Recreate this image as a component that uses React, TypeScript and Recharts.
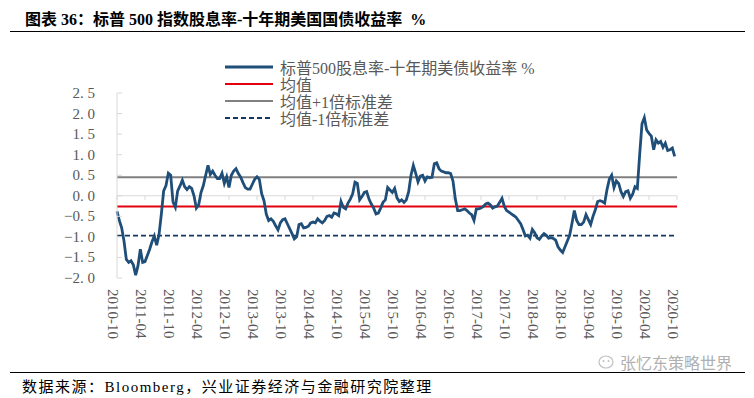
import { LineChart, Line, XAxis, YAxis, ReferenceLine } from "recharts";

const FONT = "'Liberation Serif', 'Noto Sans CJK SC', serif";

// half-month steps from 2010-10 to 2020-10
const X_LABELS = [
  "2010-10", "2011-04", "2011-10", "2012-04", "2012-10", "2013-04", "2013-10",
  "2014-04", "2014-10", "2015-04", "2015-10", "2016-04", "2016-10", "2017-04",
  "2017-10", "2018-04", "2018-10", "2019-04", "2019-10", "2020-04", "2020-10",
];
const Y_TICKS = [-2, -1.5, -1, -0.5, 0, 0.5, 1, 1.5, 2, 2.5];

const SPREAD = [
  -0.38, -0.6, -0.78, -1.1, -1.55, -1.62, -1.58, -1.68, -1.93, -1.7,
  -1.3, -1.62, -1.6, -1.45, -1.3, -1.12, -0.98, -1.2, -0.95, -0.45,
  0.12, 0.25, 0.55, 0.5, -0.15, -0.28, 0.12, 0.24, 0.38, 0.22,
  0.15, 0.22, 0.18, 0.0, -0.3, -0.22, 0.08, 0.25, 0.5, 0.74,
  0.52, 0.6, 0.5, 0.42, 0.42, 0.55, 0.3, 0.46, 0.2, 0.5,
  0.6, 0.66, 0.54, 0.45, 0.32, 0.2, 0.16, 0.16, 0.28, 0.4,
  0.46, 0.4, 0.05, -0.12, -0.45, -0.6, -0.56, -0.62, -0.73, -0.83,
  -0.66, -0.58, -0.56, -0.68, -0.8, -0.92, -1.05, -1.0, -0.7, -0.68,
  -0.78, -0.77, -0.74, -0.66, -0.64, -0.66, -0.56, -0.62, -0.66, -0.6,
  -0.5, -0.48, -0.52, -0.42, -0.44, -0.48, -0.14, -0.28, -0.32, -0.18,
  -0.08, 0.05, 0.33, 0.3, -0.1, -0.02, 0.08, 0.1, -0.08, -0.2,
  -0.3, -0.44, -0.42, -0.3, -0.16, -0.1, 0.2, 0.14, 0.08, 0.18,
  -0.05, -0.14, -0.1, -0.16, -0.1, 0.1, 0.5, 0.74, 0.55, 0.34,
  0.48, 0.5, 0.36, 0.46, 0.44, 0.45, 0.78, 0.8, 0.66, 0.6,
  0.58, 0.56, 0.56, 0.54, 0.36, -0.08, -0.36, -0.36, -0.34, -0.32,
  -0.36, -0.42, -0.46, -0.6, -0.32, -0.32, -0.3, -0.26, -0.2, -0.18,
  -0.22, -0.3, -0.27, -0.25, -0.16, -0.06, -0.26, -0.36, -0.4, -0.44,
  -0.48, -0.52, -0.6, -0.68, -0.82, -0.98, -0.96, -1.03, -0.82, -0.9,
  -1.02, -1.06, -0.98, -0.92, -0.96, -1.03, -1.02, -1.04, -1.08, -1.24,
  -1.32, -1.38, -1.24, -1.1, -0.96, -0.67, -0.36, -0.6, -0.7, -0.7,
  -0.64, -0.46, -0.58, -0.7, -0.5, -0.34, -0.14, -0.12, -0.14, -0.18,
  0.15, 0.4, 0.5, 0.2, 0.36, 0.3, 0.1, -0.02, 0.1, 0.12,
  -0.06, 0.04, 0.22, 0.18, 1.0, 1.75, 1.9, 1.6, 1.52, 1.45,
  1.12, 1.36, 1.28, 1.32, 1.18, 1.28, 1.1, 1.12, 1.16, 0.96,
];

const MEAN = -0.26;
const UPPER = 0.45;
const LOWER = -0.97;

const NAVY = "#1f4e79";
const RED = "#e3000f";
const GRAY = "#808080";
const DASH = "#17375e";
const AXIS = "#d9d9d9";

const data = SPREAD.map((v, i) => ({ t: i, v }));
const xTicks = X_LABELS.map((_, i) => i * 12);

const LEGEND = [
  { name: "标普500股息率-十年期美债收益率 %", color: NAVY, width: 3, dash: "" },
  { name: "均值", color: RED, width: 2, dash: "" },
  { name: "均值+1倍标准差", color: GRAY, width: 2, dash: "" },
  { name: "均值-1倍标准差", color: DASH, width: 2, dash: "5 3" },
];

function fmtY(v: number) {
  const s = Math.abs(v).toFixed(1).replace(".", ". ");
  return v < 0 ? "−" + s : s;
}

function YTick(props: any) {
  const { x, y, payload } = props;
  return (
    <g>
      <line x1={x + 22} x2={x + 27} y1={y} y2={y} stroke={AXIS} />
      <text x={x} y={y} dy={5} textAnchor="end" fontSize={15} fill="#595959" fontFamily={FONT}>
        {fmtY(payload.value)}
      </text>
    </g>
  );
}

function XTick(props: any) {
  const { x, y, payload } = props;
  const label = X_LABELS[Math.round(payload.value / 12)];
  return (
    <text
      x={0}
      y={0}
      transform={`translate(${x - 4},${y}) rotate(90)`}
      textAnchor="start"
      dominantBaseline="central"
      fontSize={15}
      fill="#595959"
      fontFamily={FONT}
    >
      {label}
    </text>
  );
}

function ChartLegend() {
  return (
    <div style={{ position: "absolute", left: 225, top: 58, fontFamily: FONT, fontSize: 16, color: "#595959" }}>
      {LEGEND.map((item) => (
        <div key={item.name} style={{ display: "flex", alignItems: "center", height: 17 }}>
          <svg width={55} height={10}>
            <line
              x1={0}
              x2={48}
              y1={5}
              y2={5}
              stroke={item.color}
              strokeWidth={item.width}
              strokeDasharray={item.dash}
            />
          </svg>
          <span style={{ whiteSpace: "nowrap" }}>{item.name}</span>
        </div>
      ))}
    </div>
  );
}

export default function App() {
  return (
    <div
      style={{
        position: "absolute",
        left: 0,
        top: 0,
        width: 754,
        height: 398,
        background: "#fff",
        fontFamily: FONT,
        overflow: "hidden",
      }}
    >
      <div style={{ position: "absolute", left: 25, top: 6, fontSize: 16, fontWeight: "bold", color: "#000", whiteSpace: "nowrap" }}>
        图表 36：标普 500 指数股息率-十年期美国国债收益率&nbsp;&nbsp;%
      </div>
      <div style={{ position: "absolute", left: 10, top: 31, width: 735, height: 1, background: "#000" }} />

      <div style={{ position: "absolute", left: 0, top: 0 }}>
        <LineChart width={754} height={398} data={data} margin={{ top: 93, right: 77, bottom: 60, left: 57 }}>
          <XAxis
            type="number"
            dataKey="t"
            domain={[0, 240]}
            ticks={xTicks}
            interval={0}
            axisLine={false}
            tickLine={false}
            tickSize={0}
            tickMargin={11}
            height={60}
            tick={<XTick />}
          />
          <YAxis
            type="number"
            domain={[-2, 2.5]}
            ticks={Y_TICKS}
            interval={0}
            width={60}
            axisLine={{ stroke: AXIS }}
            tickLine={false}
            tickSize={0}
            tickMargin={22}
            tick={<YTick />}
          />
          <ReferenceLine y={0} stroke={AXIS} strokeWidth={1} />
          {xTicks.map((t) => (
            <ReferenceLine
              key={t}
              segment={[{ x: t, y: 0 }, { x: t, y: -0.1 }]}
              stroke={AXIS}
              strokeWidth={1}
            />
          ))}
          <ReferenceLine y={UPPER} stroke={GRAY} strokeWidth={2} />
          <ReferenceLine y={MEAN} stroke={RED} strokeWidth={2} />
          <ReferenceLine y={LOWER} stroke={DASH} strokeWidth={1.8} strokeDasharray="5 3" />
          <Line
            type="linear"
            dataKey="v"
            stroke={NAVY}
            strokeWidth={2.8}
            dot={false}
            isAnimationActive={false}
          />
        </LineChart>
      </div>
      <ChartLegend />

      <svg style={{ position: "absolute", left: 598, top: 354 }} width={18} height={16}>
        <ellipse cx={8} cy={8} rx={7} ry={6} fill="none" stroke="#c0c0c0" strokeWidth={1.2} />
        <circle cx={5.5} cy={7} r={1} fill="#c0c0c0" />
        <circle cx={10.5} cy={7} r={1} fill="#c0c0c0" />
      </svg>
      <div style={{ position: "absolute", left: 620, top: 350, fontSize: 16, color: "#b0b0b0", whiteSpace: "nowrap", fontFamily: "'Noto Sans CJK SC', sans-serif" }}>
        张忆东策略世界
      </div>
      <div style={{ position: "absolute", left: 10, top: 372, width: 735, height: 1, background: "#000" }} />
      <div style={{ position: "absolute", left: 22, top: 375, fontSize: 15, color: "#000", whiteSpace: "nowrap", letterSpacing: 1.5 }}>
        数据来源：Bloomberg，兴业证券经济与金融研究院整理
      </div>
    </div>
  );
}
